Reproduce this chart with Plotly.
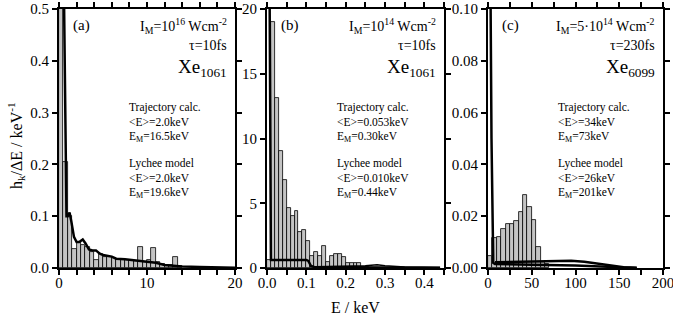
import numpy as np
import plotly.graph_objects as go

# ---------------- data ----------------
# panel (a): Xe1061, 1e16 W/cm2, 10 fs ; bins 0.5 keV
bin_a = 0.5
hist_a = [0.9, 0.205, 0.10, 0.037, 0.05, 0.045, 0.04, 0.03, 0.015, 0.028,
          0.022, 0.022, 0.020, 0.018, 0.017, 0.016, 0.015, 0.014, 0.040, 0.012,
          0.016, 0.038, 0.012, 0.008, 0.006, 0.005, 0.021, 0.003]
line_a_x = [0.55, 0.7, 0.85, 1.0, 1.2, 1.4, 1.7, 2.0, 2.3, 2.7, 3.0, 3.4, 3.8, 4.2,
            4.6, 5.0, 5.5, 6.0, 6.5, 7.0, 7.5, 8.0, 9.0, 10.0, 11.0, 12.0, 13.0,
            14.0, 16.0, 18.0, 20.0]
line_a_y = [0.55, 0.30, 0.10, 0.10, 0.107, 0.09, 0.06, 0.05, 0.05, 0.055, 0.048,
            0.036, 0.034, 0.034, 0.028, 0.025, 0.024, 0.022, 0.018, 0.018, 0.017,
            0.016, 0.014, 0.012, 0.010, 0.006, 0.004, 0.003, 0.002, 0.001, 0.0005]

# panel (b): Xe1061, 1e14 W/cm2, 10 fs ; bins 0.01 keV
bin_b = 0.01
hist_b = [0.6, 19.0, 13.1, 9.0, 6.8, 4.6, 4.0, 4.4, 2.8, 2.9, 2.1, 0.9, 1.25, 0.9,
          1.7, 0.45, 0.9, 1.05, 1.05, 0.85, 0.35, 0.35, 0.35, 0.35, 0.1, 0.1]
line_b_x = [0.006, 0.007, 0.010, 0.05, 0.10, 0.105, 0.112, 0.12, 0.20, 0.30, 0.44]
line_b_y = [25.0, 20.0, 0.62, 0.62, 0.62, 0.55, 0.15, 0.08, 0.05, 0.03, 0.02]
line_b2_x = [0.12, 0.20, 0.25, 0.28, 0.30, 0.35, 0.44]
line_b2_y = [0.10, 0.12, 0.18, 0.25, 0.18, 0.08, 0.04]

# panel (c): Xe6099, 5e14 W/cm2, 230 fs ; bins 5 keV
bin_c = 5.0
hist_c = [0.0045, 0.0117, 0.012, 0.015, 0.017, 0.0169, 0.018, 0.0215,
          0.028, 0.0235, 0.0185, 0.008, 0.0025, 0.0015]
line_c_x = [2.5, 3.0, 4.0, 5.0, 6.0, 8.0, 20.0, 50.0, 100.0, 150.0, 170.0]
line_c_y = [0.11, 0.10, 0.05, 0.01, 0.002, 0.0015, 0.0015, 0.0013, 0.0010, 0.0004, 0.0]
line_c2_x = [8.0, 30.0, 50.0, 65.0, 80.0, 95.0, 110.0, 125.0, 140.0, 155.0, 170.0]
line_c2_y = [0.0022, 0.0023, 0.0024, 0.0026, 0.0028, 0.0028, 0.0024, 0.0017, 0.0009, 0.0003, 0.0001]

panels = ["(a)", "(b)", "(c)"]
intens = ["I<sub>M</sub>=10<sup>16</sup> Wcm<sup>-2</sup>",
          "I<sub>M</sub>=10<sup>14</sup> Wcm<sup>-2</sup>",
          "I<sub>M</sub>=5·10<sup>14</sup> Wcm<sup>-2</sup>"]
taus = ["τ=10fs", "τ=10fs", "τ=230fs"]
clusters = ["Xe<sub>1061</sub>", "Xe<sub>1061</sub>", "Xe<sub>6099</sub>"]
traj_E = ["&lt;E&gt;=2.0keV", "&lt;E&gt;=0.053keV", "&lt;E&gt;=34keV"]
traj_EM = ["E<sub>M</sub>=16.5keV", "E<sub>M</sub>=0.30keV", "E<sub>M</sub>=73keV"]
ly_E = ["&lt;E&gt;=2.0keV", "&lt;E&gt;=0.010keV", "&lt;E&gt;=26keV"]
ly_EM = ["E<sub>M</sub>=19.6keV", "E<sub>M</sub>=0.44keV", "E<sub>M</sub>=201keV"]

# ---------------- figure ----------------
W, H = 673, 318
FONT = "Liberation Serif"
fig = go.Figure()

def centers(n, w):
    return (np.arange(n) + 0.5) * w

bar_style = dict(marker=dict(color="#c4c4c4", line=dict(color="#000000", width=0.8)),
                 showlegend=False, hoverinfo="skip")
line_style = dict(mode="lines", line=dict(color="#000000", width=2.5),
                  showlegend=False, hoverinfo="skip")

fig.add_trace(go.Bar(x=centers(len(hist_a), bin_a), y=hist_a, width=bin_a,
                     xaxis="x", yaxis="y", **bar_style))
fig.add_trace(go.Scatter(x=line_a_x, y=line_a_y, xaxis="x", yaxis="y", **line_style))

fig.add_trace(go.Bar(x=centers(len(hist_b), bin_b), y=hist_b, width=bin_b,
                     xaxis="x2", yaxis="y2", **bar_style))
fig.add_trace(go.Scatter(x=line_b_x, y=line_b_y, xaxis="x2", yaxis="y2", **line_style))
fig.add_trace(go.Scatter(x=line_b2_x, y=line_b2_y, xaxis="x2", yaxis="y2",
                         mode="lines", line=dict(color="#000000", width=1.5),
                         showlegend=False, hoverinfo="skip"))

fig.add_trace(go.Bar(x=centers(len(hist_c), bin_c), y=hist_c, width=bin_c,
                     xaxis="x3", yaxis="y3", **bar_style))
fig.add_trace(go.Scatter(x=line_c_x, y=line_c_y, xaxis="x3", yaxis="y3", **line_style))
fig.add_trace(go.Scatter(x=line_c2_x, y=line_c2_y, xaxis="x3", yaxis="y3", **line_style))

def px_x(p):
    return p / W

def px_y(p):
    return 1 - p / H

ydom = [px_y(268), px_y(9)]
xdoms = [[px_x(59), px_x(235)], [px_x(267), px_x(444)], [px_x(488), px_x(663)]]

axis_common = dict(showline=True, linecolor="#000000", linewidth=2, mirror="ticks",
                   ticks="outside", ticklen=5, tickwidth=1.5, tickcolor="#000000",
                   showgrid=False, zeroline=False, automargin=False,
                   ticklabeloverflow="allow",
                   tickfont=dict(family=FONT, size=15, color="#000000"))
xaxis_extra = dict(ticklabelstandoff=-5)

def ticks(lo, hi, step, lab_step, fmt):
    vals = list(np.round(np.arange(lo, hi + step / 2, step), 6))
    texts = []
    for v in vals:
        r = v / lab_step
        texts.append(fmt.format(v) if abs(r - round(r)) < 1e-6 else "")
    return vals, texts

xa_v, xa_t = ticks(0, 20, 2, 10, "{:.0f}")
xb_v, xb_t = ticks(0, 0.45, 0.05, 0.1, "{:.1f}")
xc_v, xc_t = ticks(0, 200, 25, 50, "{:.0f}")

fig.update_layout(
    width=W, height=H, margin=dict(l=0, r=0, t=0, b=0, autoexpand=False),
    paper_bgcolor="#ffffff", plot_bgcolor="#ffffff", bargap=0,
    font=dict(family=FONT, color="#000000"),
    xaxis=dict(domain=xdoms[0], range=[0, 20], tickvals=xa_v, ticktext=xa_t,
               anchor="y", **axis_common, **xaxis_extra),
    yaxis=dict(domain=ydom, range=[0, 0.5], dtick=0.1, tickformat=".1f",
               anchor="x", **axis_common),
    xaxis2=dict(domain=xdoms[1], range=[0, 0.45], tickvals=xb_v, ticktext=xb_t,
                anchor="y2", **axis_common, **xaxis_extra),
    yaxis2=dict(domain=ydom, range=[0, 20], dtick=5, tickformat="d",
                anchor="x2", **axis_common),
    xaxis3=dict(domain=xdoms[2], range=[0, 200], tickvals=xc_v, ticktext=xc_t,
                anchor="y3", **axis_common, **xaxis_extra),
    yaxis3=dict(domain=ydom, range=[0, 0.1], dtick=0.02, tickformat=".2f",
                anchor="x3", **axis_common),
)

anns = []
# axis titles
anns.append(dict(x=px_x(16), y=px_y(146), xref="paper", yref="paper", showarrow=False,
                 xanchor="center", yanchor="middle",
                 text="h<sub>k</sub>/ΔE / keV<sup>-1</sup>", textangle=-90,
                 font=dict(family=FONT, size=16, color="#000000")))
anns.append(dict(x=px_x(355), y=px_y(307), xref="paper", yref="paper", showarrow=False,
                 xanchor="center", yanchor="middle",
                 text="E / keV", font=dict(family=FONT, size=16, color="#000000")))

for i in range(3):
    x0, x1 = xdoms[i][0] * W, xdoms[i][1] * W
    def add(text, xpix, ypix, size, anchor="left"):
        anns.append(dict(x=px_x(xpix), y=px_y(ypix), xref="paper", yref="paper",
                         showarrow=False, text=text, xanchor=anchor, yanchor="middle",
                         font=dict(family=FONT, size=size, color="#000000")))
    add(panels[i], x0 + 12, 26, 15)
    add(intens[i], x1 - 6, 26, 14, "right")
    add(taus[i], x1 - 6, 46, 14, "right")
    add(clusters[i], x1 - 6, 68, 19, "right")
    tx = x0 + 68
    add("Trajectory calc.", tx, 107, 11.5)
    add(traj_E[i], tx, 122, 11.5)
    add(traj_EM[i], tx, 137, 11.5)
    add("Lychee model", tx, 163, 11.5)
    add(ly_E[i], tx, 178, 11.5)
    add(ly_EM[i], tx, 193, 11.5)

fig.update_layout(annotations=anns)
fig.write_html("out.html", config={"displayModeBar": False},
               post_script="document.body.style.margin='0px';document.body.style.padding='0px';")
